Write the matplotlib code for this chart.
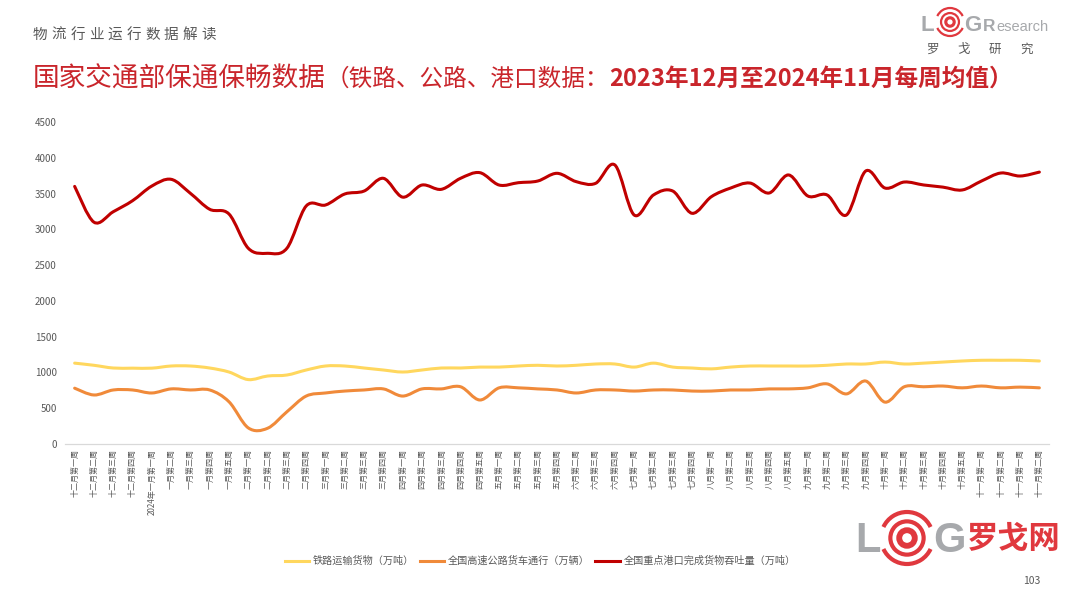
import numpy as np
import matplotlib
matplotlib.use("Agg")
import matplotlib.pyplot as plt
from matplotlib.path import Path
from matplotlib.patches import PathPatch, Circle, Arc
from matplotlib.lines import Line2D

plt.rcParams['font.family'] = ['Noto Sans CJK SC', 'DejaVu Sans']

# ---- data ----
weeks = [
    "十二月第一周", "十二月第二周", "十二月第三周", "十二月第四周",
    "2024年一月第一周", "一月第二周", "一月第三周", "一月第四周", "一月第五周",
    "二月第一周", "二月第二周", "二月第三周", "二月第四周",
    "三月第一周", "三月第二周", "三月第三周", "三月第四周",
    "四月第一周", "四月第二周", "四月第三周", "四月第四周", "四月第五周",
    "五月第一周", "五月第二周", "五月第三周", "五月第四周",
    "六月第二周", "六月第三周", "六月第四周",
    "七月第一周", "七月第二周", "七月第三周", "七月第四周",
    "八月第一周", "八月第二周", "八月第三周", "八月第四周", "八月第五周",
    "九月第一周", "九月第二周", "九月第三周", "九月第四周",
    "十月第一周", "十月第二周", "十月第三周", "十月第四周", "十月第五周",
    "十一月第一周", "十一月第二周", "十一月第一周", "十一月第二周",
]

rail = [1130, 1100, 1062, 1060, 1060, 1090, 1090, 1062, 1006, 900,
        950, 964, 1034, 1090, 1090, 1062, 1034, 1006, 1034, 1062,
        1062, 1075, 1075, 1090, 1100, 1090, 1100, 1118, 1118, 1075,
        1130, 1075, 1062, 1050, 1075, 1090, 1090, 1090, 1090, 1100,
        1118, 1118, 1145, 1118, 1130, 1145, 1160, 1170, 1170, 1170, 1160]

road = [780, 685, 755, 755, 713, 770, 755, 755, 590, 225,
        220, 450, 670, 713, 740, 755, 770, 670, 770, 770,
        800, 615, 785, 785, 770, 755, 713, 755, 755, 740,
        755, 755, 740, 740, 755, 755, 770, 770, 785, 840,
        700, 880, 585, 800, 800, 810, 785, 810, 785, 795, 785]

port = [3600, 3100, 3246, 3400, 3605, 3699, 3503, 3280, 3214, 2735,
        2665, 2735, 3326, 3340, 3494, 3535, 3713, 3450, 3619, 3559,
        3713, 3792, 3619, 3652, 3675, 3783, 3666, 3643, 3899, 3200,
        3480, 3535, 3224, 3456, 3577, 3647, 3508, 3760, 3466, 3480,
        3200, 3815, 3577, 3661, 3620, 3590, 3550, 3675, 3787, 3745, 3800]

series_names = ["铁路运输货物（万吨）", "全国高速公路货车通行（万辆）", "全国重点港口完成货物吞吐量（万吨）"]
series_colors = ["#FFD75E", "#F08A3A", "#C00000"]

GRAY = "#595959"
TITLE_RED = "#C9252B"
LOGO_RED = "#E0383E"
LOGO_GRAY = "#A7A9AC"


def smooth_path(x, y):
    """Catmull-Rom style bezier through the data points (like Excel smoothed lines)"""
    pts = np.column_stack([x, y]).astype(float)
    ext = np.vstack([pts[0], pts, pts[-1]])
    verts = [pts[0]]
    codes = [Path.MOVETO]
    for i in range(len(pts) - 1):
        p0, p1, p2, p3 = ext[i], ext[i + 1], ext[i + 2], ext[i + 3]
        verts += [p1 + (p2 - p0) / 6, p2 - (p3 - p1) / 6, p2]
        codes += [Path.CURVE4] * 3
    return Path(verts, codes)


fig = plt.figure(figsize=(10.8, 5.94), dpi=100)
W, H = 1080, 594

ax = fig.add_axes([65 / W, 1 - 444 / H, (1049 - 65) / W, (444 - 122) / H])
x = np.arange(len(weeks))
for vals, col in zip([rail, road, port], series_colors):
    ax.add_patch(PathPatch(smooth_path(x, vals), fill=False, edgecolor=col,
                           lw=2.2, capstyle='round', joinstyle='round'))

ax.set_xlim(-0.5, len(weeks) - 0.5)
ax.set_ylim(0, 4500)
ax.set_yticks(range(0, 4501, 500))
ax.set_xticks(x)
ax.set_xticklabels(weeks, rotation=90, va='top', ha='center', fontsize=5.8, color=GRAY)
ax.tick_params(axis='both', length=0)
ax.tick_params(axis='x', pad=3.5)
ax.tick_params(axis='y', labelsize=7, labelcolor=GRAY, pad=6)
for s in ['top', 'right', 'left']:
    ax.spines[s].set_visible(False)
ax.spines['bottom'].set_color('#D9D9D9')
ax.spines['bottom'].set_linewidth(0.9)

handles = [Line2D([], [], color=c, lw=2.2) for c in series_colors]
fig.legend(handles, series_names, loc='center', bbox_to_anchor=(0.5, 1 - 561 / H),
           ncol=3, frameon=False, fontsize=7.3, labelcolor=GRAY,
           handlelength=2.4, handletextpad=0.35, columnspacing=0.6)

# ---- decoration layer in pixel coordinates ----
deco = fig.add_axes([0, 0, 1, 1], zorder=5)
deco.set_xlim(0, W)
deco.set_ylim(H, 0)
deco.set_axis_off()
deco.patch.set_alpha(0)

# small header, spaced characters
for i, ch in enumerate("物流行业运行数据解读"):
    deco.text(33 + i * 18.7, 34.5, ch, fontsize=10.5, color=GRAY, ha='left', va='center')

# main title in three pieces
renderer = fig.canvas.get_renderer()
pieces = [("国家交通部保通保畅数据", 19.2, 'normal'),
          ("（铁路、公路、港口数据：", 17, 'normal'),
          ("2023年12月至2024年11月每周均值）", 17, 'bold')]
xpos = 33
for txt, fs, fw in pieces:
    t = deco.text(xpos, 79, txt, fontsize=fs, fontweight=fw, color=TITLE_RED,
                  ha='left', va='center')
    xpos += t.get_window_extent(renderer).width


def rings(cx, cy, r, lw):
    deco.add_patch(Arc((cx, cy), 2 * r, 2 * r, theta1=25, theta2=155, color=LOGO_RED, lw=lw))
    deco.add_patch(Arc((cx, cy), 2 * r, 2 * r, theta1=205, theta2=335, color=LOGO_RED, lw=lw))
    deco.add_patch(Circle((cx, cy), r * 0.64, fill=False, edgecolor=LOGO_RED, lw=lw))
    deco.add_patch(Circle((cx, cy), r * 0.3, fill=False, edgecolor=LOGO_RED, lw=lw * 1.4))


# top-right logo
deco.text(921, 31, "L", fontsize=16, fontweight='bold', family='Liberation Sans',
          color=LOGO_GRAY, ha='left', va='baseline')
rings(950, 22, 14, 1.6)
deco.text(964, 31, "G", fontsize=16, fontweight='bold', family='Liberation Sans',
          color=LOGO_GRAY, ha='left', va='baseline')
deco.text(983, 31, "R", fontsize=12.5, fontweight='bold', family='Liberation Sans',
          color=LOGO_GRAY, ha='left', va='baseline')
deco.text(996, 31, "esearch", fontsize=10.5, family='Liberation Sans',
          color=LOGO_GRAY, ha='left', va='baseline')
for i, ch in enumerate("罗戈研究"):
    deco.text(932 + i * 31.5, 49, ch, fontsize=9, color=GRAY, ha='center', va='center')

# bottom-right watermark logo
deco.text(855, 552, "L", fontsize=30, fontweight='bold', family='Liberation Sans',
          color=LOGO_GRAY, ha='left', va='baseline')
rings(907, 538, 26, 3.0)
deco.text(933, 552, "G", fontsize=30, fontweight='bold', family='Liberation Sans',
          color=LOGO_GRAY, ha='left', va='baseline')
deco.text(967, 539, "罗戈网", fontsize=22.5, fontweight='bold', color=LOGO_RED,
          ha='left', va='center')

deco.text(1032, 581, "103", fontsize=7.5, color=GRAY, ha='center', va='center')

fig.savefig("out.png", dpi=100)
